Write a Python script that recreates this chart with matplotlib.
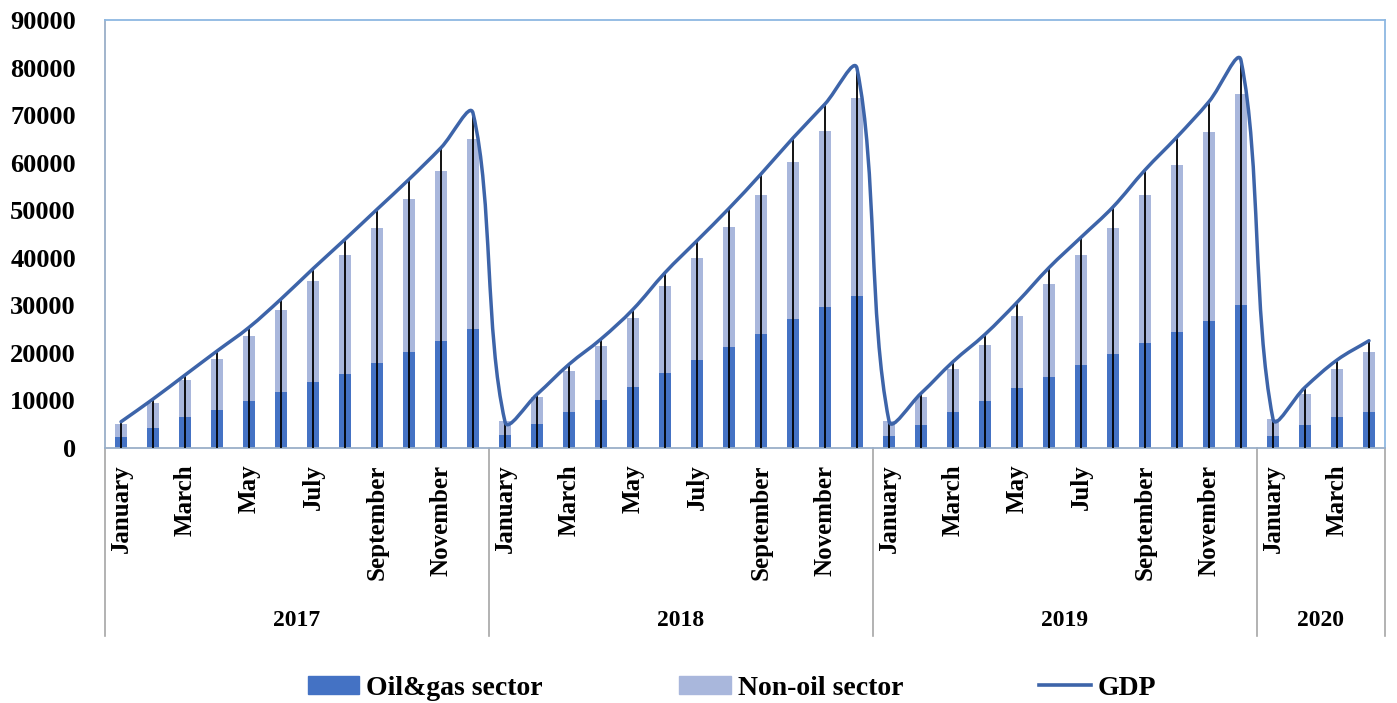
import numpy as np
import matplotlib
matplotlib.use("Agg")
import matplotlib.pyplot as plt
from matplotlib.path import Path
from matplotlib.patches import PathPatch, Patch
from matplotlib.lines import Line2D
import matplotlib.transforms as mtransforms

plt.rcParams["font.family"] = ["Liberation Serif", "DejaVu Serif"]
plt.rcParams["font.weight"] = "bold"

# Months Jan 2017 .. Apr 2020
months = ["January", "February", "March", "April", "May", "June", "July",
          "August", "September", "October", "November", "December"]
years = ["2017", "2018", "2019", "2020"]
months_per_year = [12, 12, 12, 4]

oil_gas = [2310, 4270, 6450, 8050, 9950, 11840, 13880, 15630, 17940, 20250, 22560, 25020,
           2730, 5050, 7500, 10090, 12900, 15770, 18500, 21240, 24040, 27130, 29650, 32030,
           2520, 4910, 7500, 9950, 12620, 15000, 17520, 19830, 22140, 24390, 26770, 30130,
           2590, 4910, 6450, 7570]
non_oil = [2670, 5190, 7850, 10650, 13600, 17250, 21170, 24890, 28390, 32040, 35620, 39960,
           2950, 5740, 8630, 11360, 14370, 18300, 21520, 25230, 29160, 32950, 37010, 41500,
           3160, 5880, 9180, 11780, 15200, 19420, 23070, 26500, 31060, 35120, 39680, 44370,
           3510, 6510, 10090, 12620]
gdp = [5530, 10300, 15350, 20400, 25370, 31330, 37710, 43880, 50190, 56500, 63150, 70400,
       5500, 11290, 17600, 22920, 29160, 36870, 43600, 50390, 57620, 65190, 72340, 79800,
       5650, 11500, 18150, 23900, 30630, 37920, 44300, 50680, 58460, 65400, 72830, 81500,
       6100, 12760, 18500, 22560]

c_oil = "#4472C4"
c_non = "#A9B7DC"
c_gdp = "#3D64A9"


def smooth_path(xs, ys, sx, sy, k=0.36):
    """Excel-like smoothed line as cubic bezier path through the data points"""
    n = len(xs)
    P = np.column_stack([xs, ys]).astype(float)
    # segment lengths in pixel space
    d = np.hypot(np.diff(P[:, 0]) * sx, np.diff(P[:, 1]) * sy)
    T = np.zeros_like(P)
    for i in range(n):
        a = P[max(i - 1, 0)]
        b = P[min(i + 1, n - 1)]
        T[i] = b - a
    verts = [P[0]]
    codes = [Path.MOVETO]
    for i in range(n - 1):
        d_prev = d[i - 1] if i > 0 else 0.0
        d_next = d[i + 1] if i < n - 2 else 0.0
        c1 = P[i] + T[i] * d[i] / (d_prev + d[i]) * k
        c2 = P[i + 1] - T[i + 1] * d[i] / (d[i] + d_next) * k
        verts += [c1, c2, P[i + 1]]
        codes += [Path.CURVE4] * 3
    return Path(verts, codes)


fig = plt.figure(figsize=(13.97, 7.03), dpi=100)
ax = fig.add_axes([0.0752, 0.3627, 0.9162, 0.6089])

x = np.arange(len(gdp))
ax.bar(x, oil_gas, width=0.4, color=c_oil, zorder=2)
ax.bar(x, non_oil, width=0.4, bottom=oil_gas, color=c_non, zorder=2)
ax.vlines(x, 0, gdp, color="black", lw=1.3, zorder=3)

ax.set_xlim(-0.5, len(gdp) - 0.5)
ax.set_ylim(0, 90000)
ax.set_yticks(np.arange(0, 90001, 10000))
ax.tick_params(axis="y", length=0, pad=21, labelsize=19)

path = smooth_path(x, gdp, 32.0, 428.0 / 90000)
ax.add_patch(PathPatch(path, facecolor="none", edgecolor=c_gdp, lw=2.5,
                       zorder=4, capstyle="round", joinstyle="round"))

# month tick labels, every second month
tick_pos = []
tick_lab = []
i = 0
for n in months_per_year:
    for m in range(0, n, 2):
        tick_pos.append(i + m)
        tick_lab.append(months[m])
    i += n
ax.set_xticks(tick_pos)
ax.set_xticklabels(tick_lab, rotation=90, va="top", ha="center", fontsize=18)
ax.tick_params(axis="x", length=0, pad=12)

for s in ["top", "right"]:
    ax.spines[s].set_color("#8DB8E2")
for s in ["left", "bottom"]:
    ax.spines[s].set_color("#9AAFC8")
for s in ax.spines.values():
    s.set_linewidth(1.3)

# year groups under the month labels
trans = mtransforms.blended_transform_factory(ax.transData, ax.transAxes)
start = 0
bounds = [-0.5]
for yr, n in zip(years, months_per_year):
    ax.text(start + (n - 1) / 2, -0.402, yr, transform=trans, ha="center",
            va="center", fontsize=17)
    start += n
    bounds.append(start - 0.5)
for b in bounds:
    ax.plot([b, b], [0, -0.44], transform=trans, color="#A6A6A6", lw=1.2,
            clip_on=False)

handles = [Patch(color=c_oil), Patch(color=c_non), Line2D([], [], color=c_gdp, lw=2.6)]
fig.legend(handles, ["Oil&gas sector", "Non-oil sector", "GDP"], ncol=3,
           loc="center", bbox_to_anchor=(0.524, 0.021), frameon=False,
           fontsize=20, handlelength=1.85, handleheight=0.6, handletextpad=0.25,
           columnspacing=4.9)

fig.savefig("out.png", dpi=100)
